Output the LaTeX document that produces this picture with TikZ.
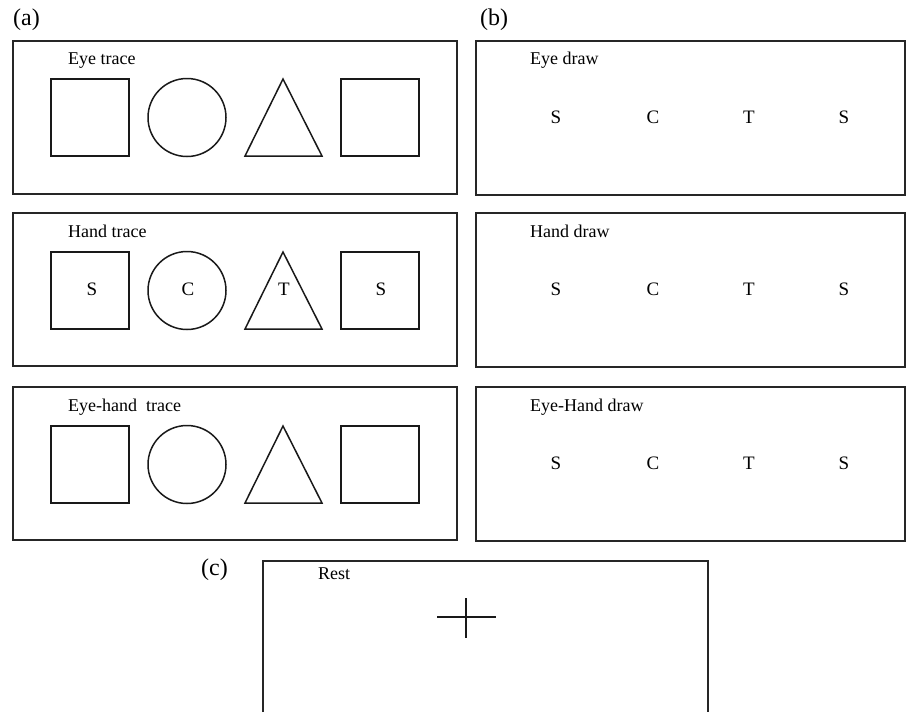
\documentclass[tikz,border=0pt]{standalone}
\usepackage{fontspec}
\setmainfont{Liberation Serif}
\begin{document}
\begin{tikzpicture}[x=1pt,y=-1pt,
  panel/.style={draw=black!85,line width=1.4pt},
  shp/.style={draw=black!90,line width=1.5pt},
  lbl/.style={anchor=base west,inner sep=0pt,font=\fontsize{18}{20}\selectfont},
  ltr/.style={anchor=base,inner sep=0pt,font=\fontsize{19}{21}\selectfont},
  tag/.style={anchor=base west,inner sep=0pt,font=\fontsize{24}{26}\selectfont}]
\useasboundingbox (0,0) rectangle (907,712);
% tags
\node[tag] (ta) at (13,25) {(a)};
\node[tag] (tb) at (480,25) {(b)};
\node[tag] (tc) at (201,575) {(c)};
% panel (a) rows
\foreach \top/\sy/\lb/\txt/\i in {41/79/64/Eye trace/1, 213/252/237/Hand trace/2, 387/426/411/Eye-hand\ \ trace/3}{
  \draw[panel] (13,\top) rectangle (457,\top+153);
  \node[lbl] (la\i) at (68,\lb) {\txt};
  \draw[shp] (51,\sy) rectangle (129,\sy+77);
  \draw[shp] (187,\sy+38.5) circle (39);
  \draw[shp] (283,\sy) -- (322,\sy+77) -- (245,\sy+77) -- cycle;
  \draw[shp] (341,\sy) rectangle (419,\sy+77);
}
% letters in hand trace
\node[ltr] (hs1) at (92,295) {S};
\node[ltr] (hc) at (188,295) {C};
\node[ltr] (ht) at (284,295) {T};
\node[ltr] (hs2) at (381,295) {S};
% panel (b) rows
\foreach \top/\lb/\lt/\txt/\i in {41/64/123/Eye draw/1, 213/237/295/Hand draw/2, 387/411/469/Eye-Hand draw/3}{
  \draw[panel] (476,\top) rectangle (905,\top+154);
  \node[lbl] (lb\i) at (530,\lb) {\txt};
  \node[ltr] (bs\i) at (556,\lt) {S};
  \node[ltr] (bc\i) at (653,\lt) {C};
  \node[ltr] (bt\i) at (749,\lt) {T};
  \node[ltr] (bz\i) at (844,\lt) {S};
}
% panel (c)
\draw[panel] (263,712) -- (263,561) -- (708,561) -- (708,712);
\node[lbl] (rest) at (318,579) {Rest};
\coordinate (cx) at (466,617);
\draw[shp,line width=1.3pt] (437,617) -- (496,617);
\draw[shp,line width=1.3pt] (466,598) -- (466,638);
\end{tikzpicture}
\end{document}
